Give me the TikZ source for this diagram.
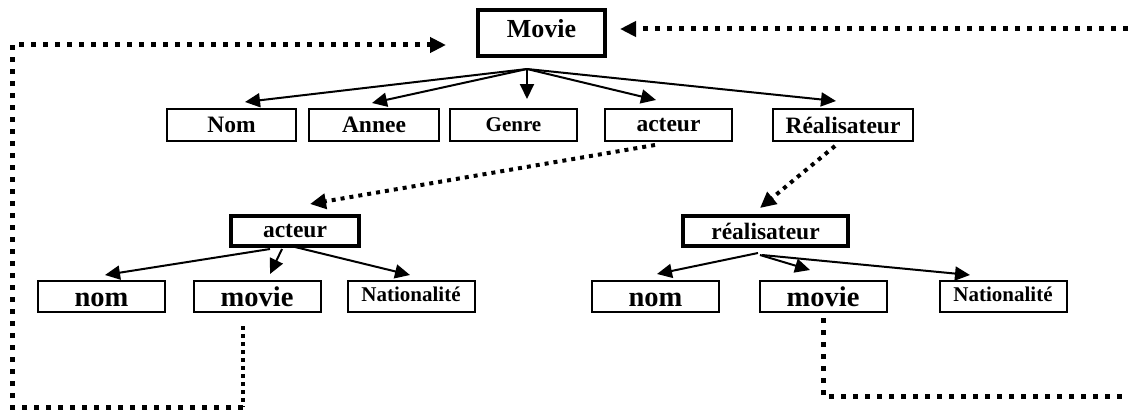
\documentclass[tikz,border=0pt]{standalone}
\usepackage{fontspec}
\setmainfont{Liberation Serif}
\usetikzlibrary{arrows.meta,calc}
\begin{document}
\begin{tikzpicture}[x=1pt,y=-1pt,
  box/.style={draw,line width=2pt,inner sep=0pt,minimum height=32pt,
    font=\bfseries\fontsize{23.5}{26}\selectfont},
  keybox/.style={box,line width=4pt,minimum height=30pt},
  leafbox/.style={box,minimum height=31pt,minimum width=127pt,
    font=\bfseries\fontsize{28.5}{30}\selectfont,text height=20pt,text depth=0pt},
  natbox/.style={box,minimum height=31pt,minimum width=127pt,
    font=\bfseries\fontsize{21}{23}\selectfont,text height=14.5pt,text depth=5.5pt},
  link/.style={line width=2pt,-{Triangle[length=15pt,width=14pt]}},
  ref/.style={line width=5pt,dash pattern=on 5pt off 7pt},
  refthin/.style={line width=3.5pt,dash pattern=on 3.5pt off 4.5pt},
  refmid/.style={line width=4pt,dash pattern=on 4pt off 5pt},
  tip/.style={-{Triangle[length=16pt,width=15pt]}}
]
\useasboundingbox (0,0) rectangle (1129,412);
\clip (0,0) rectangle (1129,412);

% root entity
\node[box,line width=4pt,minimum width=127pt,minimum height=46pt,
  font=\bfseries\fontsize{26}{28}\selectfont,text depth=9pt] (movie) at (541.5,33) {Movie};

% attributes of Movie
\node[box,minimum width=129pt] (nomA)    at (231.5,125) {Nom};
\node[box,minimum width=130pt] (anneeA)  at (374,125)   {Annee};
\node[box,minimum width=127pt,font=\bfseries\fontsize{21}{23}\selectfont] (genreA) at (513.5,125) {Genre};
\node[box,minimum width=127pt] (acteurA) at (668.5,125) {acteur};
\node[box,minimum width=140pt] (realA)   at (843,125)   {Réalisateur};

% referenced entities
\node[keybox,minimum width=128pt] (acteurB) at (295,231)   {acteur};
\node[keybox,minimum width=165pt] (realB)   at (765.5,231) {réalisateur};

% attributes of acteur
\node[leafbox] (nomC)   at (101.5,296.5) {nom};
\node[leafbox] (movieC) at (257,296.5)   {movie};
\node[natbox]  (natC)   at (411,296.5)   {Nationalité};

% attributes of réalisateur
\node[leafbox] (nomD)   at (655.5,296.5) {nom};
\node[leafbox] (movieD) at (823,296.5)   {movie};
\node[natbox]  (natD)   at (1003,296.5)  {Nationalité};

% fan-out from Movie
\coordinate (fork) at ($(movie.south)+(-14.5,11)$);
\draw[link] (fork) -- ($(nomA.north)+(13.5,-6)$);
\draw[link] (fork) -- ($(anneeA.north)+(-2,-5)$);
\draw[link] (fork) -- ($(genreA.north)+(13.5,-9)$);
\draw[link] (fork) -- ($(acteurA.north)+(-12.5,-8)$);
\draw[link] (fork) -- ($(realA.north)+(-7,-7)$);

% fan-out from acteur
\draw[link] ($(acteurB.south)+(-25,1)$) -- ($(nomC.north)+(3.5,-5)$);
\draw[link] ($(acteurB.south)+(-13,1)$) -- ($(movieC.north)+(13,-6)$);
\draw[link] ($(acteurB.south)+(0,-1)$)  -- ($(natC.north)+(-1,-5)$);

% fan-out from réalisateur
\draw[link] ($(realB.south)+(-7.5,5)$) -- ($(nomD.north)+(1.5,-6)$);
\draw[link] ($(realB.south)+(-5.5,7)$) -- ($(movieD.north)+(-13,-10)$);
\draw[link] ($(realB.south)+(-3.5,7)$) -- ($(natD.north)+(-33,-5)$);

% references from Movie to acteur / réalisateur
\draw[refmid,tip] ($(acteurA.south)+(-13.5,3)$) -- ($(acteurB.north)+(15,-10)$);
\draw[refmid,tip] ($(realA.south)+(-8,4)$) -- ($(realB.north)+(-5.5,-6)$);

% acteur.movie back to Movie
\coordinate (lcorner) at (243,407);
\coordinate (lbottom) at (12,407);
\coordinate (ltop)    at (12,45);
\draw[refthin] ($(movieC.south)+(-14,13)$) -- (lcorner);
\draw[ref,tip] (lcorner) -- (lbottom) -- (ltop) -- ($(movie.west)+(-30,12)$);

% réalisateur.movie back to Movie
\coordinate (rcorner) at (823,396);
\coordinate (redge)   at (1140,396);
\coordinate (tedge)   at (1140,29);
\draw[ref] ($(movieD.south)+(0,5)$) -- (rcorner) -- (redge);
\draw[ref,tip] (tedge) -- ($(movie.east)+(13,-4)$);
\end{tikzpicture}
\end{document}
